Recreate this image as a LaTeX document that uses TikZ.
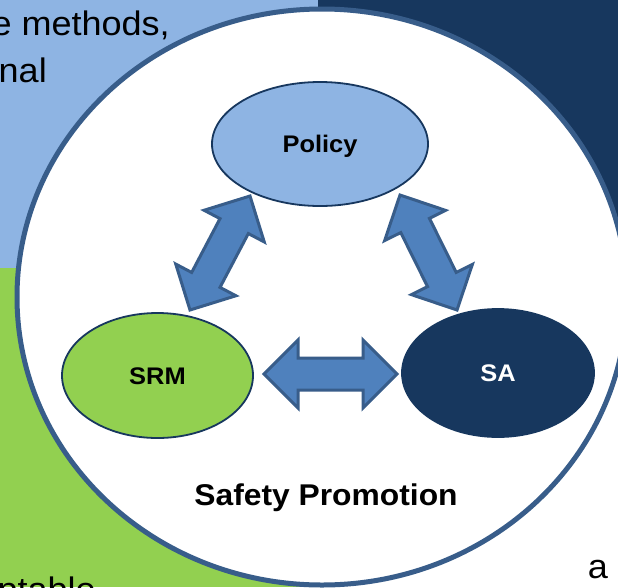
\documentclass[tikz,border=0pt]{standalone}
\usepackage{fontspec}
\usepackage{graphicx}
\setmainfont{Liberation Sans}
\usetikzlibrary{shapes.geometric,shapes.arrows,calc}
\definecolor{lblue}{HTML}{8EB4E3}
\definecolor{navy}{HTML}{17375E}
\definecolor{lgreen}{HTML}{92D050}
\definecolor{afill}{HTML}{4F81BD}
\definecolor{aline}{HTML}{385D8A}
\newcommand\hs[1]{\scalebox{1.06}[1]{#1}}
\newcommand\linkarrow[3]{\path let \p1=(#2), \p2=(#3), \n1={veclen(\x2-\x1,\y2-\y1)}, \n2={atan2(\y2-\y1,\x2-\x1)} in node[bigarrow, minimum height=\n1, rotate=\n2] (#1) at ($(#2)!0.5!(#3)$) {};}
\begin{document}
\begin{tikzpicture}[x=1pt,y=-1pt,
  bgtext/.style={inner sep=0, font=\fontsize{34}{40}\selectfont},
  oval/.style={ellipse, inner sep=0, draw=navy, line width=1.8pt, font=\fontsize{24}{28}\selectfont\bfseries, text height=17.2pt, text depth=0pt},
  bigarrow/.style={double arrow, draw=aline, fill=afill, line width=3pt, inner xsep=0pt, inner ysep=14.5pt, double arrow head extend=18pt, outer sep=0pt, anchor=center}]
\useasboundingbox (0,0) rectangle (618,587);
\fill[lblue] (0,0) rectangle (318,268);
\fill[navy] (318,0) rectangle (618,300);
\fill[lgreen] (0,268) rectangle (318,587);
\fill[white] (318,300) rectangle (618,587);
\node[bgtext, anchor=base east] (tl1) at (170,35) {\hs{e methods,}};
\node[bgtext, anchor=base east] (tl2) at (47,82) {\hs{nal}};
\node[bgtext, anchor=base east] (bl1) at (96,601) {\hs{ptable}};
\node[bgtext, anchor=base east] (br1) at (608,578) {\hs{a}};
\draw[aline, line width=5pt, fill=white] (322,297) ellipse [x radius=305, y radius=288];
\node[oval, fill=lblue, minimum width=216pt, minimum height=124pt] (policy) at (320,144) {\hs{Policy}};
\node[oval, fill=lgreen, minimum width=191pt, minimum height=125pt] (srm) at (157.5,375.5) {\hs{SRM}};
\node[oval, fill=navy, text=white, minimum width=192pt, minimum height=128pt] (sa) at (498,373) {\hs{SA}};
\node[inner sep=0, anchor=base, font=\fontsize{30}{34}\selectfont\bfseries] (sp) at (326,505) {\hs{Safety Promotion}};
\coordinate (a1) at ($(srm.center)+(32.5,-65.5)$);
\coordinate (a2) at ($(policy.center)+(-70,52)$);
\coordinate (b1) at ($(policy.center)+(80,51)$);
\coordinate (b2) at ($(sa.center)+(-41,-63)$);
\coordinate (c1) at ($(srm.center)+(106.5,-1.5)$);
\coordinate (c2) at ($(sa.center)+(-101,1)$);
\linkarrow{arrA}{a1}{a2}
\linkarrow{arrB}{b1}{b2}
\linkarrow{arrC}{c1}{c2}
\end{tikzpicture}
\end{document}
